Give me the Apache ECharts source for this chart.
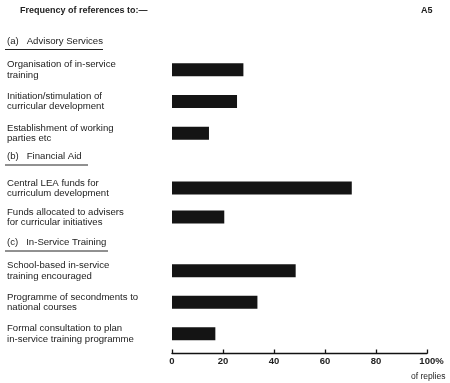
<!DOCTYPE html>
<html><head><meta charset="utf-8">
<script src="https://cdn.jsdelivr.net/npm/echarts@6/dist/echarts.min.js"></script>
<style>html,body{margin:0;padding:0;background:#fff}#c{width:450px;height:383px}</style>
</head><body><div id="c"></div>
<script>
const chartTitle = 'Frequency of references to:\u2014';
const pageMark = 'A5';
const sectionTitles = ['(a)   Advisory Services', '(b)   Financial Aid', '(c)   In-Service Training'];
const categoriesA = ['Organisation of in-service\ntraining', 'Initiation/stimulation of\ncurricular development', 'Establishment of working\nparties etc'];
const valuesA = [28, 25.5, 14.5];
const categoriesB = ['Central LEA funds for\ncurriculum development', 'Funds allocated to advisers\nfor curricular initiatives'];
const valuesB = [70.5, 20.5];
const categoriesC = ['School-based in-service\ntraining encouraged', 'Programme of secondments to\nnational courses', 'Formal consultation to plan\nin-service training programme'];
const valuesC = [48.5, 33.5, 17];
const xTicks = [0, 20, 40, 60, 80, 100];
const axisUnit = 'of replies';

const FONT = "'Liberation Sans', Arial, sans-serif";
const TXT = '#222';
const chart = echarts.init(document.getElementById('c'), null, {renderer: 'canvas'});

const grids = [
  {left: 172, width: 255, top: 54, height: 95},
  {left: 172, width: 255, top: 173.5, height: 58},
  {left: 172, width: 255, top: 255, height: 94.5}
];
const cats = [categoriesA, categoriesB, categoriesC];
const vals = [valuesA, valuesB, valuesC];

const xAxes = grids.map((g, i) => ({
  type: 'value', gridIndex: i, min: xTicks[0], max: xTicks[xTicks.length - 1], interval: xTicks[1] - xTicks[0],
  show: i === 2, offset: 4,
  splitLine: {show: false},
  axisLine: {show: true, lineStyle: {color: '#111', width: 1.3}},
  axisTick: {show: true, inside: true, length: 4, lineStyle: {color: '#111', width: 1.3}},
  axisLabel: {
    color: TXT, fontFamily: FONT, fontSize: 9.5, fontWeight: 'bold', margin: 3,
    formatter: v => v === 100 ? '{h|100%}' : String(v),
    rich: {h: {fontFamily: FONT, fontSize: 9.5, fontWeight: 'bold', color: TXT, padding: [0, 0, 0, 9]}}
  }
}));
const yAxes = grids.map((g, i) => ({
  type: 'category', gridIndex: i, data: cats[i], inverse: true,
  axisLine: {show: false}, axisTick: {show: false}, splitLine: {show: false},
  axisLabel: {align: 'left', margin: 165, color: TXT, fontFamily: FONT, fontSize: 9.6, lineHeight: 10.2, padding: [0, 0, 8, 0]}
}));
const series = grids.map((g, i) => ({
  type: 'bar', xAxisIndex: i, yAxisIndex: i, data: vals[i], barWidth: 13,
  itemStyle: {color: '#141414'}, silent: true
}));

const headerY = [42, 157.5, 243.5];
const underlineW = [98, 83, 103];
const graphic = [
  {type: 'text', left: 20, top: 6, style: {text: chartTitle, fill: TXT, font: 'bold 9px ' + FONT}},
  {type: 'text', left: 421, top: 6, style: {text: pageMark, fill: TXT, font: 'bold 9px ' + FONT}},
  {type: 'text', left: 411, top: 372, style: {text: axisUnit, fill: TXT, font: '8.5px ' + FONT}}
];
sectionTitles.forEach((t, i) => {
  graphic.push({type: 'text', left: 7, top: headerY[i] - 6, style: {text: t, fill: TXT, font: '9.6px ' + FONT}});
  graphic.push({type: 'line', shape: {x1: 5, y1: headerY[i] + 7.5, x2: 5 + underlineW[i], y2: headerY[i] + 7.5}, style: {stroke: '#222', lineWidth: 1}});
});

chart.setOption({
  animation: false,
  grid: grids,
  xAxis: xAxes,
  yAxis: yAxes,
  series: series,
  graphic: graphic
});
</script></body></html>
